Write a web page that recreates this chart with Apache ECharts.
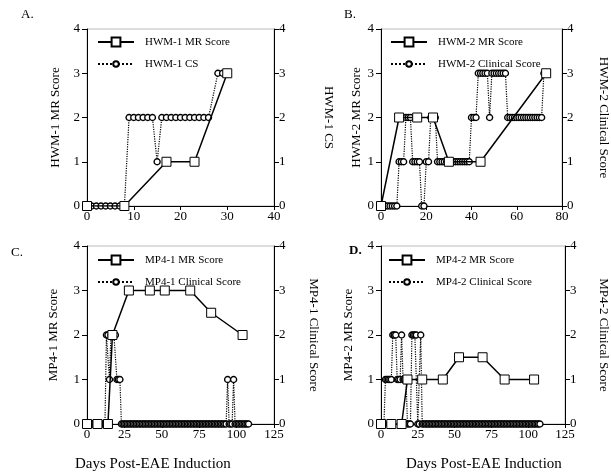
<!DOCTYPE html>
<html>
<head>
<meta charset="utf-8">
<script src="https://cdn.jsdelivr.net/npm/echarts@6/dist/echarts.min.js"></script>
<style>html,body{margin:0;padding:0;background:#fff}#c{width:611px;height:474px}</style>
</head>
<body>
<div id="c"></div>
<script>
// ---------- Panel A (HWM-1) ----------
const hwm1MrDays = [0, 8, 17, 23, 30];
const hwm1MrScore = [0, 0, 1, 1, 3];
const hwm1CsDays = [0,1,2,3,4,5,6,7,8,9,10,11,12,13,14,15,16,17,18,19,20,21,22,23,24,25,26,28,29,30];
const hwm1Cs     = [0,0,0,0,0,0,0,0,0,2,2,2,2,2,2,1,2,2,2,2,2,2,2,2,2,2,2,3,3,3];

// ---------- Panel B (HWM-2) ----------
const hwm2MrDays = [0, 8, 16, 23, 30, 44, 73];
const hwm2MrScore = [0, 2, 2, 2, 1, 1, 3];
const hwm2CsDays = [0,1,2,3,4,5,6,7,8,9,10,11,12,13,14,15,16,17,18,19,20,21,22,23,24,25,26,27,28,29,30,31,32,33,34,35,36,37,38,39,40,41,42,43,44,45,46,47,48,49,50,51,52,53,54,55,56,57,58,59,60,61,62,63,64,65,66,67,68,69,70,71,72];
const hwm2Cs     = [0,0,0,0,0,0,0,0,1,1,1,2,2,2,1,1,1,1,0,0,1,1,2,2,2,1,1,1,1,1,1,1,1,1,1,1,1,1,1,1,2,2,2,3,3,3,3,3,2,3,3,3,3,3,3,3,2,2,2,2,2,2,2,2,2,2,2,2,2,2,2,2,3];

// ---------- Panel C (MP4-1) ----------
const mp41MrDays = [0, 7, 14, 17, 28, 42, 52, 69, 83, 104];
const mp41MrScore = [0, 0, 0, 2, 3, 3, 3, 3, 2.5, 2];
const mp41CsDays = [0,1,2,3,4,5,6,7,8,9,10,11,12,13,14,15,16,17,18,19,20,21,22,23,24,25,26,27,28,29,30,31,32,33,34,35,36,37,38,39,40,41,42,43,44,45,46,47,48,49,50,51,52,53,54,55,56,57,58,59,60,61,62,63,64,65,66,67,68,69,70,71,72,73,74,75,76,77,78,79,80,81,82,83,84,85,86,87,88,89,90,91,92,93,94,95,96,97,98,99,100,101,102,103,104,105,106,107,108];
const mp41Cs     = [0,0,0,0,0,0,0,0,0,0,0,0,0,2,2,1,2,2,2,2,1,1,1,0,0,0,0,0,0,0,0,0,0,0,0,0,0,0,0,0,0,0,0,0,0,0,0,0,0,0,0,0,0,0,0,0,0,0,0,0,0,0,0,0,0,0,0,0,0,0,0,0,0,0,0,0,0,0,0,0,0,0,0,0,0,0,0,0,0,0,0,0,0,0,1,0,0,0,1,0,0,0,0,0,0,0,0,0,0];

// ---------- Panel D (MP4-2) ----------
const mp42MrDays = [0, 7, 14, 18, 28, 42, 53, 69, 84, 104];
const mp42MrScore = [0, 0, 0, 1, 1, 1, 1.5, 1.5, 1, 1];
const mp42CsDays = [0,1,2,3,4,5,6,7,8,9,10,11,12,13,14,15,16,17,18,19,20,21,22,23,24,25,26,27,28,29,30,31,32,33,34,35,36,37,38,39,40,41,42,43,44,45,46,47,48,49,50,51,52,53,54,55,56,57,58,59,60,61,62,63,64,65,66,67,68,69,70,71,72,73,74,75,76,77,78,79,80,81,82,83,84,85,86,87,88,89,90,91,92,93,94,95,96,97,98,99,100,101,102,103,104,105,106,107,108];
const mp42Cs     = [0,0,0,1,1,1,1,1,2,2,2,1,1,1,2,1,1,1,0,0,0,2,2,2,2,0,0,2,0,0,0,0,0,0,0,0,0,0,0,0,0,0,0,0,0,0,0,0,0,0,0,0,0,0,0,0,0,0,0,0,0,0,0,0,0,0,0,0,0,0,0,0,0,0,0,0,0,0,0,0,0,0,0,0,0,0,0,0,0,0,0,0,0,0,0,0,0,0,0,0,0,0,0,0,0,0,0,0,0];

// ---------- Labels ----------
const panelLetters = ['A.', 'B.', 'C.', 'D.'];
const mrNames = ['HWM-1 MR Score', 'HWM-2 MR Score', 'MP4-1 MR Score', 'MP4-2 MR Score'];
const csNames = ['HWM-1 CS', 'HWM-2 Clinical Score', 'MP4-1 Clinical Score', 'MP4-2 Clinical Score'];
const xMax = [40, 80, 125, 125];
const xInterval = [10, 20, 25, 25];
const yTicks = [0, 1, 2, 3, 4];
const xTitle = 'Days Post-EAE Induction';

const pair = (d, v) => d.map((x, i) => [x, v[i]]);
const mrData = [pair(hwm1MrDays, hwm1MrScore), pair(hwm2MrDays, hwm2MrScore), pair(mp41MrDays, mp41MrScore), pair(mp42MrDays, mp42MrScore)];
const csData = [pair(hwm1CsDays, hwm1Cs), pair(hwm2CsDays, hwm2Cs), pair(mp41CsDays, mp41Cs), pair(mp42CsDays, mp42Cs)];

const FF = '"Liberation Serif", "DejaVu Serif", serif';
const grids = [
  {left: 87, top: 29, width: 187, height: 177},
  {left: 381, top: 29, width: 187, height: 177},
  {left: 87, top: 246, width: 187, height: 178},
  {left: 381, top: 246, width: 187, height: 178}
];
const leftGap = [25, 18, 27, 26];
const rightGap = [48, 35, 33, 32];
const legendPos = [{left: 97, top: 42}, {left: 390, top: 42}, {left: 97, top: 260}, {left: 388, top: 260}];

const legendBase = {
  orient: 'vertical', padding: 0, itemWidth: 36, selectedMode: false,
  textStyle: {color: '#000', fontFamily: FF, fontSize: 11, padding: [0, 0, 0, 6]}
};
const legends = [];
grids.forEach((g, i) => {
  legends.push(Object.assign({}, legendBase, {data: [mrNames[i]], left: legendPos[i].left, top: legendPos[i].top - 5.5, itemHeight: 11}));
  legends.push(Object.assign({}, legendBase, {data: [csNames[i]], left: legendPos[i].left, top: legendPos[i].top + 20 - 3.5, itemHeight: 7}));
});

const option = {
  animation: false,
  backgroundColor: '#fff',
  grid: grids.map(g => Object.assign({show: true, borderColor: '#bbb', borderWidth: 1, backgroundColor: 'transparent'}, g)),
  xAxis: grids.map((g, i) => ({
    type: 'value', gridIndex: i, min: 0, max: xMax[i], interval: xInterval[i],
    axisLine: {show: true, onZero: false, lineStyle: {color: '#000', width: 1}},
    axisTick: {show: true, inside: false, length: 4, lineStyle: {color: '#000'}},
    axisLabel: {color: '#000', fontFamily: FF, fontSize: 13, margin: 4},
    splitLine: {show: false}
  })),
  yAxis: [].concat(...grids.map((g, i) => ([
    {
      type: 'value', gridIndex: i, position: 'left', min: 0, max: 4, interval: 1,
      name: mrNames[i], nameLocation: 'middle', nameGap: leftGap[i],
      nameTextStyle: {color: '#000', fontFamily: FF, fontSize: 13},
      axisLine: {show: true, lineStyle: {color: '#000'}},
      axisTick: {show: true, inside: false, length: 5, lineStyle: {color: '#000'}},
      axisLabel: {color: '#000', fontFamily: FF, fontSize: 13, margin: 7,
        formatter: v => yTicks.includes(v) ? String(v) : ''},
      splitLine: {show: false}
    },
    {
      type: 'value', gridIndex: i, position: 'right', min: 0, max: 4, interval: 1,
      name: csNames[i], nameLocation: 'middle', nameGap: rightGap[i], nameRotate: -90,
      nameTextStyle: {color: '#000', fontFamily: FF, fontSize: 13},
      axisLine: {show: true, lineStyle: {color: '#000'}},
      axisTick: {show: true, inside: false, length: 5, lineStyle: {color: '#000'}},
      axisLabel: {color: '#000', fontFamily: FF, fontSize: 13, margin: 5,
        formatter: v => yTicks.includes(v) ? String(v) : ''},
      splitLine: {show: false}
    }
  ]))),
  legend: legends,
  series: [].concat(...grids.map((g, i) => ([
    {
      name: csNames[i], type: 'line', xAxisIndex: i, yAxisIndex: 2 * i + 1, data: csData[i],
      symbol: 'circle', symbolSize: 6, showAllSymbol: true, z: 2,
      itemStyle: {color: '#fff', borderColor: '#000', borderWidth: 1.4},
      lineStyle: {color: '#000', width: 1.2, type: 'dotted'}
    },
    {
      name: mrNames[i], type: 'line', xAxisIndex: i, yAxisIndex: 2 * i, data: mrData[i],
      symbol: 'rect', symbolSize: 9, showAllSymbol: true, z: 3,
      itemStyle: {color: '#fff', borderColor: '#000', borderWidth: 1},
      lineStyle: {color: '#000', width: 1.5}
    }
  ]))),
  graphic: [
    {type: 'text', left: 21, top: 8, style: {text: panelLetters[0], font: '13px ' + FF, fill: '#000'}},
    {type: 'text', left: 344, top: 8, style: {text: panelLetters[1], font: '13px ' + FF, fill: '#000'}},
    {type: 'text', left: 11, top: 246, style: {text: panelLetters[2], font: '13px ' + FF, fill: '#000'}},
    {type: 'text', left: 349, top: 244, style: {text: panelLetters[3], font: 'bold 13px ' + FF, fill: '#000'}},
    {type: 'text', left: 75, top: 457, style: {text: xTitle, font: '15px ' + FF, fill: '#000'}},
    {type: 'text', left: 406, top: 457, style: {text: xTitle, font: '15px ' + FF, fill: '#000'}}
  ]
};
const chart = echarts.init(document.getElementById('c'), null, {renderer: 'canvas'});
chart.setOption(option);
</script>
</body>
</html>
